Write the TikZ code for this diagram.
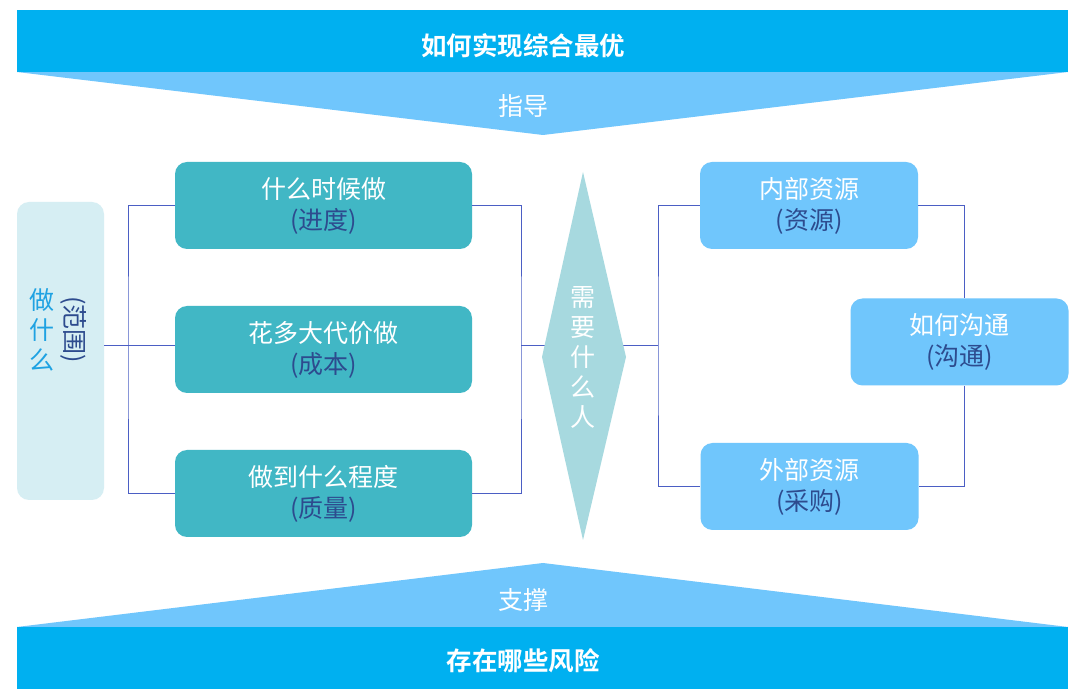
\documentclass[tikz,border=0pt]{standalone}
\usepackage{fontspec}
\setmainfont{Noto Sans CJK SC}
\newfontfamily\cjkb{Noto Sans CJK SC Bold}
\definecolor{banner}{HTML}{00B0F0}
\definecolor{tri}{HTML}{70C6FC}
\definecolor{teal}{HTML}{41B7C5}
\definecolor{lbox}{HTML}{D6EEF3}
\definecolor{dia}{HTML}{A7D9DF}
\definecolor{rbox}{HTML}{70C6FC}
\definecolor{dark}{HTML}{2D4B8E}
\definecolor{lblue}{HTML}{1FA2E2}
\definecolor{conn}{HTML}{4B5EC4}
\begin{document}
\begin{tikzpicture}[x=1pt,y=-1pt,
  txt/.style={font=\fontsize{25}{31}\selectfont, align=center, inner sep=0pt},
  tbox/.style={fill=teal, rounded corners=12pt, minimum width=297pt, minimum height=87pt, inner sep=0pt, font=\fontsize{25}{31}\selectfont, align=center},
  bbox/.style={fill=rbox, rounded corners=12pt, minimum width=218pt, minimum height=87pt, inner sep=0pt, font=\fontsize{25}{31}\selectfont, align=center},
  cline/.style={draw=conn, line width=1pt}]
\useasboundingbox (0,0) rectangle (1080,700);
\fill[white] (0,0) rectangle (1080,700);
% banners and triangles
\fill[tri] (17,72) -- (1068,72) -- (543,135) -- cycle;
\node[fill=banner, minimum width=1051pt, minimum height=62pt, inner sep=0pt] (topban) at (542.5,41) {};
\node[txt, text=white, font=\cjkb\fontsize{25.5}{31}\selectfont] (toptxt) at (523,46) {如何实现综合最优};
\node[txt, text=white] (guide) at (523,106) {指导};
\fill[tri] (17,627) -- (1068,627) -- (543,563) -- cycle;
\node[fill=banner, minimum width=1051pt, minimum height=62pt, inner sep=0pt] (botban) at (542.5,658) {};
\node[txt, text=white, font=\cjkb\fontsize{25.5}{31}\selectfont] (bottxt) at (523,661) {存在哪些风险};
\node[txt, text=white] (support) at (523,600) {支撑};
% left box
\node[fill=lbox, rounded corners=12pt, minimum width=87pt, minimum height=298pt, inner sep=0pt] (lb) at (60.5,351) {};
\node[txt, text=lblue, font=\fontsize{25}{30}\selectfont] (lbt) at (42,330) {做\\什\\么};
\node[txt, text=dark, rotate=-90] (lbs) at (74,330) {(范围)};
% teal boxes
\node[tbox] (t1) at (323.5,205.5) {\textcolor{white}{什么时候做}\\\textcolor{dark}{(进度)}};
\node[tbox] (t2) at (323.5,349.5) {\textcolor{white}{花多大代价做}\\\textcolor{dark}{(成本)}};
\node[tbox] (t3) at (323.5,493.5) {\textcolor{white}{做到什么程度}\\\textcolor{dark}{(质量)}};
% right boxes
\node[bbox] (r1) at (809,205.5) {\textcolor{white}{内部资源}\\\textcolor{dark}{(资源)}};
\node[bbox] (r2) at (809.5,486.5) {\textcolor{white}{外部资源}\\\textcolor{dark}{(采购)}};
\node[bbox] (r3) at (959.5,342) {\textcolor{white}{如何沟通}\\\textcolor{dark}{(沟通)}};
% connectors
\coordinate (jl) at (128,346);
\coordinate (jm) at (521,346);
\coordinate (jr) at (658,346);
\coordinate (rx) at (964,342);
\draw[cline] (lb.east |- jl) -- (t2.west |- jl);
\draw[cline] (t1.west) -| (jl) |- (t3.west);
\draw[cline] (t1.east) -| (jm) |- (t3.east);
\draw[cline] (jm) -- (560,346);
\draw[cline] (610,346) -- (jr);
\draw[cline] (r1.west) -| (jr) |- (r2.west);
\draw[cline] (r1.east) -| (rx |- r3.north);
\draw[cline] (rx |- r3.south) |- (r2.east);
% diamond
\fill[dia] (583,172) -- (626,357) -- (583,540) -- (542,357) -- cycle;
\node[txt, text=white, font=\fontsize{25}{30}\selectfont] (dt) at (583,357) {需\\要\\什\\么\\人};
\end{tikzpicture}
\end{document}
